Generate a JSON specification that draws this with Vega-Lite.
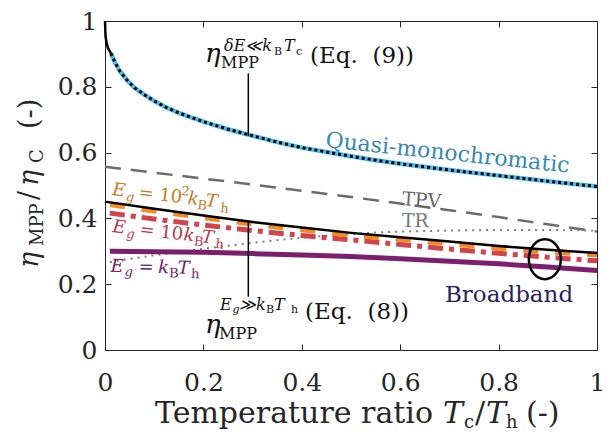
{
"$schema": "https://vega.github.io/schema/vega-lite/v6.json",
"width": 492, "height": 329,
"autosize": "none",
"padding": {"left": 105, "top": 21, "right": 18, "bottom": 84},
"background": "white",
"config": {
  "font": "DejaVu Serif",
  "view": {"stroke": null},
  "axis": {"grid": false, "title": null, "domainColor": "#262626", "tickColor": "#262626", "domainWidth": 1, "tickWidth": 1, "tickSize": -6, "labelFont": "DejaVu Serif", "labelFontSize": 25, "labelColor": "#262626", "labelFlush": false, "labelOverlap": false},
  "text": {"font": "DejaVu Serif", "align": "left", "baseline": "alphabetic"}
},
"datasets": {
  "curves": [
    {"s":"tpv","x":0,"y":0.557},{"s":"tpv","x":0.1,"y":0.539},{"s":"tpv","x":0.2,"y":0.521},{"s":"tpv","x":0.3,"y":0.503},{"s":"tpv","x":0.4,"y":0.484},{"s":"tpv","x":0.5,"y":0.465},{"s":"tpv","x":0.6,"y":0.445},{"s":"tpv","x":0.7,"y":0.425},{"s":"tpv","x":0.8,"y":0.404},{"s":"tpv","x":0.9,"y":0.382},{"s":"tpv","x":1,"y":0.36},
    {"s":"tr","x":0.01,"y":0.267},{"s":"tr","x":0.05,"y":0.277},{"s":"tr","x":0.1,"y":0.288},{"s":"tr","x":0.15,"y":0.298},{"s":"tr","x":0.2,"y":0.308},{"s":"tr","x":0.25,"y":0.317},{"s":"tr","x":0.3,"y":0.326},{"s":"tr","x":0.35,"y":0.334},{"s":"tr","x":0.4,"y":0.341},{"s":"tr","x":0.45,"y":0.347},{"s":"tr","x":0.5,"y":0.352},{"s":"tr","x":0.55,"y":0.357},{"s":"tr","x":0.6,"y":0.36},{"s":"tr","x":0.7,"y":0.363},{"s":"tr","x":0.8,"y":0.365},{"s":"tr","x":0.9,"y":0.365},{"s":"tr","x":1,"y":0.363},
    {"s":"eg1","x":0.01,"y":0.3},{"s":"eg1","x":0.1,"y":0.299},{"s":"eg1","x":0.2,"y":0.297},{"s":"eg1","x":0.3,"y":0.293},{"s":"eg1","x":0.4,"y":0.289},{"s":"eg1","x":0.5,"y":0.284},{"s":"eg1","x":0.6,"y":0.277},{"s":"eg1","x":0.7,"y":0.27},{"s":"eg1","x":0.8,"y":0.262},{"s":"eg1","x":0.9,"y":0.252},{"s":"eg1","x":1,"y":0.242},
    {"s":"eg10","x":0.01,"y":0.416},{"s":"eg10","x":0.1,"y":0.398},{"s":"eg10","x":0.2,"y":0.38},{"s":"eg10","x":0.3,"y":0.363},{"s":"eg10","x":0.4,"y":0.348},{"s":"eg10","x":0.5,"y":0.335},{"s":"eg10","x":0.6,"y":0.321},{"s":"eg10","x":0.7,"y":0.307},{"s":"eg10","x":0.8,"y":0.294},{"s":"eg10","x":0.9,"y":0.282},{"s":"eg10","x":1,"y":0.271},
    {"s":"eg100","x":0.01,"y":0.443},{"s":"eg100","x":0.1,"y":0.423},{"s":"eg100","x":0.2,"y":0.403},{"s":"eg100","x":0.3,"y":0.383},{"s":"eg100","x":0.4,"y":0.366},{"s":"eg100","x":0.5,"y":0.35},{"s":"eg100","x":0.6,"y":0.337},{"s":"eg100","x":0.7,"y":0.324},{"s":"eg100","x":0.8,"y":0.31},{"s":"eg100","x":0.9,"y":0.299},{"s":"eg100","x":1,"y":0.29},
    {"s":"eginf","x":0,"y":0.451},{"s":"eginf","x":0.1,"y":0.429},{"s":"eginf","x":0.2,"y":0.409},{"s":"eginf","x":0.3,"y":0.389},{"s":"eginf","x":0.4,"y":0.372},{"s":"eginf","x":0.5,"y":0.356},{"s":"eginf","x":0.6,"y":0.343},{"s":"eginf","x":0.7,"y":0.33},{"s":"eginf","x":0.8,"y":0.316},{"s":"eginf","x":0.9,"y":0.305},{"s":"eginf","x":1,"y":0.295},
    {"s":"quasi","x":0.012,"y":0.902},{"s":"quasi","x":0.02,"y":0.875},{"s":"quasi","x":0.03,"y":0.848},{"s":"quasi","x":0.045,"y":0.82},{"s":"quasi","x":0.06,"y":0.797},{"s":"quasi","x":0.08,"y":0.776},{"s":"quasi","x":0.1,"y":0.757},{"s":"quasi","x":0.125,"y":0.737},{"s":"quasi","x":0.15,"y":0.721},{"s":"quasi","x":0.175,"y":0.707},{"s":"quasi","x":0.2,"y":0.694},{"s":"quasi","x":0.25,"y":0.671},{"s":"quasi","x":0.3,"y":0.651},{"s":"quasi","x":0.35,"y":0.632},{"s":"quasi","x":0.4,"y":0.615},{"s":"quasi","x":0.45,"y":0.602},{"s":"quasi","x":0.5,"y":0.589},{"s":"quasi","x":0.55,"y":0.577},{"s":"quasi","x":0.6,"y":0.566},{"s":"quasi","x":0.7,"y":0.547},{"s":"quasi","x":0.8,"y":0.53},{"s":"quasi","x":0.9,"y":0.513},{"s":"quasi","x":1,"y":0.497},
    {"s":"eq9start","x":0,"y":1},{"s":"eq9start","x":0.001,"y":0.955},{"s":"eq9start","x":0.003,"y":0.935},{"s":"eq9start","x":0.006,"y":0.918},{"s":"eq9start","x":0.012,"y":0.902}
  ],
  "annot": [{"x":0.2913,"y":0.651,"y2":0.841},{"x":0.2913,"y":0.39,"y2":0.162}],
  "mark": [{"x":0.894,"y":0.276}],
  "egItalic": [{"label":"Eg100","t":"E","x":0.0136,"y":0.4711},{"label":"Eg100","t":"k","x":0.1673,"y":0.4444},{"label":"Eg100","t":"T","x":0.2033,"y":0.4374},{"label":"Eg10","t":"E","x":0.0142,"y":0.3587},{"label":"Eg10","t":"k","x":0.1585,"y":0.3337},{"label":"Eg10","t":"T","x":0.1951,"y":0.3276}],
  "egRoman": [{"label":"Eg100","t":"= 10","x":0.0671,"y":0.4617},{"label":"Eg10","t":"= 10","x":0.0691,"y":0.3492}],
  "egSub": [{"label":"Eg100","t":"B","x":0.188,"y":0.4407},{"label":"Eg100","t":"h","x":0.2348,"y":0.4319},{"label":"Eg10","t":"B","x":0.1809,"y":0.3301},{"label":"Eg10","t":"h","x":0.2246,"y":0.3225}],
  "egSubIt": [{"label":"Eg100","t":"g","x":0.0427,"y":0.466},{"label":"Eg10","t":"g","x":0.0437,"y":0.3535}],
  "egSup": [{"label":"Eg100","t":"2","x":0.1524,"y":0.4468}],
  "pItalic": [{"t":"E","x":0.0112,"y":0.238},{"t":"k","x":0.1077,"y":0.2343},{"t":"T","x":0.1474,"y":0.2325}],
  "pRoman": [{"t":"=","x":0.0681,"y":0.2359}],
  "pSub": [{"t":"B","x":0.1301,"y":0.2331},{"t":"h","x":0.1748,"y":0.2313}],
  "pSubIt": [{"t":"g","x":0.0396,"y":0.2368}],
  "etaMain": [{"t":"η","x":0.2033,"y":0.8754},{"t":"η","x":0.2033,"y":0.0517}],
  "etaSub": [{"t":"MPP","x":0.2358,"y":0.8571},{"t":"MPP","x":0.2317,"y":0.0334}],
  "etaSupIt": [{"t":"δE≪k","x":0.2419,"y":0.9103},{"t":"T","x":0.3639,"y":0.9103},{"t":"E","x":0.2337,"y":0.1216},{"t":"≫k","x":0.2724,"y":0.1216},{"t":"T","x":0.3435,"y":0.1216}],
  "etaSubSub": [{"t":"B","x":0.3435,"y":0.8981},{"t":"c","x":0.3882,"y":0.8981},{"t":"B","x":0.3272,"y":0.1125},{"t":"h","x":0.378,"y":0.1125}],
  "etaSubSubIt": [{"t":"g","x":0.2591,"y":0.1125}],
  "eqText": [{"t":"(Eq.\u00a0 (9))","x":0.4167,"y":0.8723},{"t":"(Eq.\u00a0 (8))","x":0.4065,"y":0.0942}],
  "quasiText": [{"t":"Quasi-monochromatic","x":0.4472,"y":0.617}],
  "tpvText": [{"t":"TPV","x":0.603,"y":0.4407}],
  "trText": [{"t":"TR","x":0.603,"y":0.3748}],
  "broadText": [{"t":"Broadband","x":0.691,"y":0.1468}],
  "xtRoman": [{"t":"Temperature ratio","x":0.1016,"y":-0.2219},{"t":"/","x":0.752,"y":-0.2219},{"t":"(-)","x":0.8557,"y":-0.2219}],
  "xtIt": [{"t":"T","x":0.687,"y":-0.2219},{"t":"T","x":0.7744,"y":-0.2219}],
  "xtSub": [{"t":"c","x":0.7297,"y":-0.2219},{"t":"h","x":0.815,"y":-0.2219}],
  "ytIt": [{"t":"η","x":-0.1362,"y":0.2492},{"t":"η","x":-0.1362,"y":0.4985}],
  "ytSub": [{"t":"MPP","x":-0.1362,"y":0.3161},{"t":"C","x":-0.1362,"y":0.5684}],
  "ytRoman": [{"t":"/","x":-0.1362,"y":0.4559},{"t":"(-)","x":-0.1362,"y":0.6717}]
},
"encoding": {
  "x": {"field": "x", "type": "quantitative", "scale": {"domain": [0, 1], "nice": false, "zero": false}, "axis": null},
  "y": {"field": "y", "type": "quantitative", "scale": {"domain": [0, 1], "nice": false, "zero": false}, "axis": null}
},
"layer": [
  {"data": {"name": "curves"}, "transform": [{"filter": "datum.s === 'tpv'"}],
   "mark": {"type": "line", "color": "#6b6b6b", "strokeWidth": 2.5, "strokeDash": [16, 10]},
   "encoding": {
     "x": {"field": "x", "type": "quantitative", "scale": {"domain": [0, 1], "nice": false, "zero": false}, "axis": {"orient": "bottom", "values": [0, 0.2, 0.4, 0.6, 0.8, 1], "format": "~g", "labelPadding": 26}},
     "y": {"field": "y", "type": "quantitative", "scale": {"domain": [0, 1], "nice": false, "zero": false}, "axis": {"orient": "left", "values": [0, 0.2, 0.4, 0.6, 0.8, 1], "format": "~g", "labelPadding": 14}}
   }},
  {"data": {"name": "curves"}, "transform": [{"filter": "datum.s === 'tr'"}],
   "mark": {"type": "line", "color": "#7f7f7f", "strokeWidth": 2, "strokeDash": [2, 5]},
   "encoding": {
     "x": {"field": "x", "type": "quantitative", "scale": {"domain": [0, 1], "nice": false, "zero": false}, "axis": {"orient": "top", "values": [0, 0.2, 0.4, 0.6, 0.8, 1], "labels": false}},
     "y": {"field": "y", "type": "quantitative", "scale": {"domain": [0, 1], "nice": false, "zero": false}, "axis": {"orient": "right", "values": [0, 0.2, 0.4, 0.6, 0.8, 1], "labels": false}}
   }},
  {"data": {"name": "curves"}, "transform": [{"filter": "datum.s === 'eg1'"}],
   "mark": {"type": "line", "color": "#7d1f6f", "strokeWidth": 5}, "encoding": {}},
  {"data": {"name": "curves"}, "transform": [{"filter": "datum.s === 'eg10'"}],
   "mark": {"type": "line", "color": "#d1434f", "strokeWidth": 5, "strokeDash": [15, 6, 5, 6]}, "encoding": {}},
  {"data": {"name": "curves"}, "transform": [{"filter": "datum.s === 'eg100'"}],
   "mark": {"type": "line", "color": "#f58a1e", "strokeWidth": 5.5, "strokeDash": [15, 17]}, "encoding": {}},
  {"data": {"name": "curves"}, "transform": [{"filter": "datum.s === 'eginf'"}],
   "mark": {"type": "line", "color": "#000000", "strokeWidth": 2.5}, "encoding": {}},
  {"data": {"name": "curves"}, "transform": [{"filter": "datum.s === 'quasi'"}],
   "mark": {"type": "line", "color": "#4dbeee", "strokeWidth": 4.5}, "encoding": {}},
  {"data": {"name": "curves"}, "transform": [{"filter": "datum.s === 'quasi'"}],
   "mark": {"type": "line", "color": "#000000", "strokeWidth": 3, "strokeDash": [3, 3]}, "encoding": {}},
  {"data": {"name": "curves"}, "transform": [{"filter": "datum.s === 'eq9start'"}],
   "mark": {"type": "line", "color": "#000000", "strokeWidth": 2.5}, "encoding": {}},
  {"data": {"name": "annot"}, "mark": {"type": "rule", "color": "#000000", "strokeWidth": 1.5},
   "encoding": {"y2": {"field": "y2"}}},
  {"data": {"name": "mark"}, "mark": {"type": "point", "shape": "M -0.8 0 A 0.8 1 0 1 0 0.8 0 A 0.8 1 0 1 0 -0.8 0", "size": 1600, "filled": false, "stroke": "#000000", "strokeWidth": 2.5, "opacity": 1}, "encoding": {}},
  {"data": {"name": "egItalic"}, "mark": {"type": "text", "fontSize": 18, "fontStyle": "italic", "angle": 6.5},
   "encoding": {"text": {"field": "t"}, "color": {"field": "label", "type": "nominal", "scale": {"domain": ["Eg100", "Eg10"], "range": ["#c57a24", "#b23b4b"]}, "legend": null}}},
  {"data": {"name": "egRoman"}, "mark": {"type": "text", "fontSize": 18, "angle": 6.5},
   "encoding": {"text": {"field": "t"}, "color": {"field": "label", "type": "nominal", "scale": {"domain": ["Eg100", "Eg10"], "range": ["#c57a24", "#b23b4b"]}, "legend": null}}},
  {"data": {"name": "egSub"}, "mark": {"type": "text", "fontSize": 13, "angle": 6.5, "dy": 4},
   "encoding": {"text": {"field": "t"}, "color": {"field": "label", "type": "nominal", "scale": {"domain": ["Eg100", "Eg10"], "range": ["#c57a24", "#b23b4b"]}, "legend": null}}},
  {"data": {"name": "egSubIt"}, "mark": {"type": "text", "fontSize": 13, "fontStyle": "italic", "angle": 6.5, "dy": 4},
   "encoding": {"text": {"field": "t"}, "color": {"field": "label", "type": "nominal", "scale": {"domain": ["Eg100", "Eg10"], "range": ["#c57a24", "#b23b4b"]}, "legend": null}}},
  {"data": {"name": "egSup"}, "mark": {"type": "text", "fontSize": 13, "angle": 6.5, "dy": -8},
   "encoding": {"text": {"field": "t"}, "color": {"field": "label", "type": "nominal", "scale": {"domain": ["Eg100", "Eg10"], "range": ["#c57a24", "#b23b4b"]}, "legend": null}}},
  {"data": {"name": "pItalic"}, "mark": {"type": "text", "fontSize": 18, "fontStyle": "italic", "angle": 1.5, "color": "#6e2466"}, "encoding": {"text": {"field": "t"}}},
  {"data": {"name": "pRoman"}, "mark": {"type": "text", "fontSize": 18, "angle": 1.5, "color": "#6e2466"}, "encoding": {"text": {"field": "t"}}},
  {"data": {"name": "pSub"}, "mark": {"type": "text", "fontSize": 13, "angle": 1.5, "dy": 4, "color": "#6e2466"}, "encoding": {"text": {"field": "t"}}},
  {"data": {"name": "pSubIt"}, "mark": {"type": "text", "fontSize": 13, "fontStyle": "italic", "angle": 1.5, "dy": 4, "color": "#6e2466"}, "encoding": {"text": {"field": "t"}}},
  {"data": {"name": "etaMain"}, "mark": {"type": "text", "fontSize": 26, "fontStyle": "italic", "color": "#111111"}, "encoding": {"text": {"field": "t"}}},
  {"data": {"name": "etaSub"}, "mark": {"type": "text", "fontSize": 16, "color": "#111111"}, "encoding": {"text": {"field": "t"}}},
  {"data": {"name": "etaSupIt"}, "mark": {"type": "text", "fontSize": 16, "fontStyle": "italic", "color": "#111111"}, "encoding": {"text": {"field": "t"}}},
  {"data": {"name": "etaSubSub"}, "mark": {"type": "text", "fontSize": 11, "color": "#111111"}, "encoding": {"text": {"field": "t"}}},
  {"data": {"name": "etaSubSubIt"}, "mark": {"type": "text", "fontSize": 11, "fontStyle": "italic", "color": "#111111"}, "encoding": {"text": {"field": "t"}}},
  {"data": {"name": "eqText"}, "mark": {"type": "text", "fontSize": 23, "color": "#111111"}, "encoding": {"text": {"field": "t"}}},
  {"data": {"name": "quasiText"}, "mark": {"type": "text", "fontSize": 22, "angle": 6, "color": "#3589ad"}, "encoding": {"text": {"field": "t"}}},
  {"data": {"name": "tpvText"}, "mark": {"type": "text", "fontSize": 19, "angle": 4, "color": "#666666"}, "encoding": {"text": {"field": "t"}}},
  {"data": {"name": "trText"}, "mark": {"type": "text", "fontSize": 19, "angle": 1, "color": "#777777"}, "encoding": {"text": {"field": "t"}}},
  {"data": {"name": "broadText"}, "mark": {"type": "text", "fontSize": 23, "color": "#2c1f5e"}, "encoding": {"text": {"field": "t"}}},
  {"data": {"name": "xtRoman"}, "mark": {"type": "text", "fontSize": 30, "color": "#262626"}, "encoding": {"text": {"field": "t"}}},
  {"data": {"name": "xtIt"}, "mark": {"type": "text", "fontSize": 30, "fontStyle": "italic", "color": "#262626"}, "encoding": {"text": {"field": "t"}}},
  {"data": {"name": "xtSub"}, "mark": {"type": "text", "fontSize": 18, "dy": 5, "color": "#262626"}, "encoding": {"text": {"field": "t"}}},
  {"data": {"name": "ytIt"}, "mark": {"type": "text", "fontSize": 27, "fontStyle": "italic", "angle": -90, "color": "#262626"}, "encoding": {"text": {"field": "t"}}},
  {"data": {"name": "ytSub"}, "mark": {"type": "text", "fontSize": 18, "angle": -90, "dy": 5, "color": "#262626"}, "encoding": {"text": {"field": "t"}}},
  {"data": {"name": "ytRoman"}, "mark": {"type": "text", "fontSize": 27, "angle": -90, "color": "#262626"}, "encoding": {"text": {"field": "t"}}}
]
}
